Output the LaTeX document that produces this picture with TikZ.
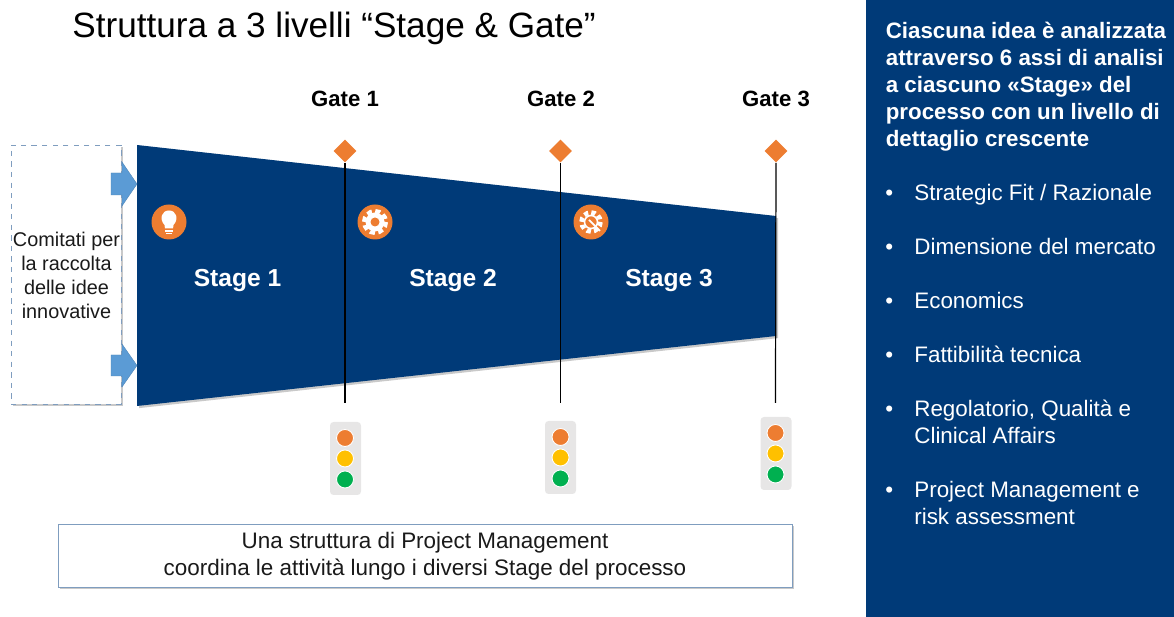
\documentclass[tikz,border=0pt]{standalone}
\usepackage{fontspec}
\setmainfont{Liberation Sans}
\usetikzlibrary{shapes.geometric,shadows}
\definecolor{navy}{HTML}{003A78}
\definecolor{arrowblue}{HTML}{5B9BD5}
\definecolor{gateorange}{HTML}{ED7D31}
\definecolor{lightyellow}{HTML}{FFC000}
\definecolor{lightgreen}{HTML}{00B050}
\definecolor{lightgray}{HTML}{E7E6E6}
\definecolor{boxblue}{HTML}{7F9DBF}
\definecolor{inktext}{HTML}{1A1A1A}
\tikzset{
  softshadow/.style={drop shadow={shadow xshift=1.2pt,shadow yshift=-1.2pt,opacity=0.3,fill=black!70}},
  gatemark/.style={diamond,fill=gateorange,minimum size=23*0.02cm,inner sep=0pt},
  gatelabel/.style={font=\fontsize{12.6}{15}\selectfont\bfseries,text=black},
  stagelabel/.style={font=\fontsize{14}{16}\selectfont\bfseries,text=white},
  iconbadge/.style={circle,fill=gateorange,minimum size=35*0.02cm,inner sep=0pt},
  lighthousing/.style={rectangle,rounded corners=2pt,fill=lightgray,minimum width=31*0.02cm,minimum height=73*0.02cm,inner sep=0pt},
  lamp/.style={circle,draw=white,line width=0.5pt,minimum size=17*0.02cm,inner sep=0pt},
  feedarrow/.style={fill=arrowblue,draw=arrowblue!85!black,line width=0.2pt},
  headtext/.style={anchor=base west,inner sep=0pt,font=\fontsize{12.7}{15.35}\selectfont\bfseries,text=white},
  sidetext/.style={anchor=base west,inner sep=0pt,font=\fontsize{12.75}{15.35}\selectfont,text=white},
}
\begin{document}
\begin{tikzpicture}[x=0.02cm,y=-0.02cm]
    \useasboundingbox (0,0) rectangle (1174,617);
    % side panel
    \fill[navy] (866,0) rectangle (1174,617);
    % title
    \node[anchor=base west,inner sep=0pt,font=\fontsize{20}{24}\selectfont,text=black] (title) at (72,38) {Struttura a 3 livelli “Stage \& Gate”};
    % funnel
    \fill[navy,softshadow] (137,145) -- (776,216) -- (776,336) -- (137,406) -- cycle;
    % ideas box
    \node[rectangle,draw=boxblue,dashed,fill=white,softshadow,line width=0.5pt,minimum width=110*0.02cm,minimum height=259*0.02cm,inner sep=0pt] (ideas) at (66,274.5) {};
    \node[align=center,inner sep=0pt,font=\fontsize{11.3}{13.6}\selectfont,text=inktext] (ideastext) at (66.5,275.5) {Comitati per\\la raccolta\\delle idee\\innovative};
    \draw[feedarrow] (111,173) -- (122,173) -- (122,162) -- (137,184) -- (122,206) -- (122,195) -- (111,195) -- cycle;
    \draw[feedarrow] (111,355) -- (122,355) -- (122,344) -- (137,365.5) -- (122,387) -- (122,376) -- (111,376) -- cycle;
    % gates
    \node[gatemark] (gate1) at (345,151) {};
    \node[gatemark] (gate2) at (560.5,151) {};
    \node[gatemark] (gate3) at (776,151) {};
    \coordinate (end1) at (345,403);
    \coordinate (end2) at (560.5,403);
    \coordinate (end3) at (775.5,403);
    \draw[line width=0.7pt] (gate1) -- (end1);
    \draw[line width=0.7pt] (gate2) -- (end2);
    \draw[line width=0.7pt] (gate3) -- (end3);
    \node[gatelabel,anchor=base] (gatelabel1) at (345,106.5) {Gate 1};
    \node[gatelabel,anchor=base] (gatelabel2) at (561,106.5) {Gate 2};
    \node[gatelabel,anchor=base] (gatelabel3) at (776,106.5) {Gate 3};
    % stages
    \node[stagelabel,anchor=base] (stage1) at (237.5,286.5) {Stage 1};
    \node[stagelabel,anchor=base] (stage2) at (453,286.5) {Stage 2};
    \node[stagelabel,anchor=base] (stage3) at (669,286.5) {Stage 3};
    % icons
    \node[iconbadge] (bulb) at (169,222) {};
    \fill[white] (165,228.5) -- (173,228.5) -- (173.5,225) .. controls (179,219) and (176.5,210.5) .. (169,210.5) .. controls (161.5,210.5) and (159,219) .. (164.5,225) -- cycle;
    \draw[white,line width=0.6pt] (165,231) -- (173,231) (166,233.5) -- (172,233.5);
    \node[iconbadge] (gear) at (375,222) {};
    \fill[white] (375,222) circle (9.5);
    \draw[white,line width=2.3pt,dash pattern=on 2.9pt off 2.01pt] (375,222) circle (11);
    \fill[gateorange] (375,222) circle (4.5);
    \node[iconbadge] (tools) at (591,222) {};
    \draw[white,line width=2.6pt,dash pattern=on 2.45pt off 1.8pt] (591,222) circle (9.5);
    \draw[white,line width=0.9pt] (591,222) circle (6.5);
    \fill[gateorange] (591,222) circle (4.5);
    \draw[white,line width=1pt] (589,220) -- (600,231);
    % lights
    \node[lighthousing] (light1) at (345.5,458.5) {};
    \node[lamp,fill=gateorange] (red1) at (345,438) {};
    \node[lamp,fill=lightyellow] (yellow1) at (345,458.5) {};
    \node[lamp,fill=lightgreen] (green1) at (345,479.5) {};
    \node[lighthousing] (light2) at (560.5,457.5) {};
    \node[lamp,fill=gateorange] (red2) at (560.5,437) {};
    \node[lamp,fill=lightyellow] (yellow2) at (560.5,457.5) {};
    \node[lamp,fill=lightgreen] (green2) at (560.5,478.5) {};
    \node[lighthousing] (light3) at (776,453.5) {};
    \node[lamp,fill=gateorange] (red3) at (775.5,433) {};
    \node[lamp,fill=lightyellow] (yellow3) at (775.5,453.5) {};
    \node[lamp,fill=lightgreen] (green3) at (775.5,474.5) {};
    % project management box
    \node[rectangle,draw=boxblue,fill=white,softshadow,line width=0.5pt,minimum width=734*0.02cm,minimum height=63*0.02cm,inner sep=0pt] (pmbox) at (425,555.5) {};
    \node[inner sep=0pt,align=center,font=\fontsize{12.77}{15.35}\selectfont,text=inktext] (pmtext) at (425,556) {Una struttura di Project Management\\coordina le attività lungo i diversi Stage del processo};
    % side text
    \node[headtext] (heading1) at (885.5,38.5) {Ciascuna idea è analizzata};
    \node[headtext] (heading2) at (885.5,65.5) {attraverso 6 assi di analisi};
    \node[headtext] (heading3) at (885.5,92.5) {a ciascuno «Stage» del};
    \node[headtext] (heading4) at (885.5,119.5) {processo con un livello di};
    \node[headtext] (heading5) at (885.5,146.5) {dettaglio crescente};
    \node[sidetext] (dot1) at (885,200.5) {•};
    \node[sidetext] (axis1) at (914,200.5) {Strategic Fit / Razionale};
    \node[sidetext] (dot2) at (885,254.5) {•};
    \node[sidetext] (axis2) at (914,254.5) {Dimensione del mercato};
    \node[sidetext] (dot3) at (885,308.5) {•};
    \node[sidetext] (axis3) at (914,308.5) {Economics};
    \node[sidetext] (dot4) at (885,362.5) {•};
    \node[sidetext] (axis4) at (914,362.5) {Fattibilità tecnica};
    \node[sidetext] (dot5) at (885,416.5) {•};
    \node[sidetext] (axis5) at (914,416.5) {Regolatorio, Qualità e};
    \node[sidetext] (axis5b) at (914,443.5) {Clinical Affairs};
    \node[sidetext] (dot6) at (885,497.5) {•};
    \node[sidetext] (axis6) at (914,497.5) {Project Management e};
    \node[sidetext] (axis6b) at (914,524.5) {risk assessment};
\end{tikzpicture}
\end{document}
